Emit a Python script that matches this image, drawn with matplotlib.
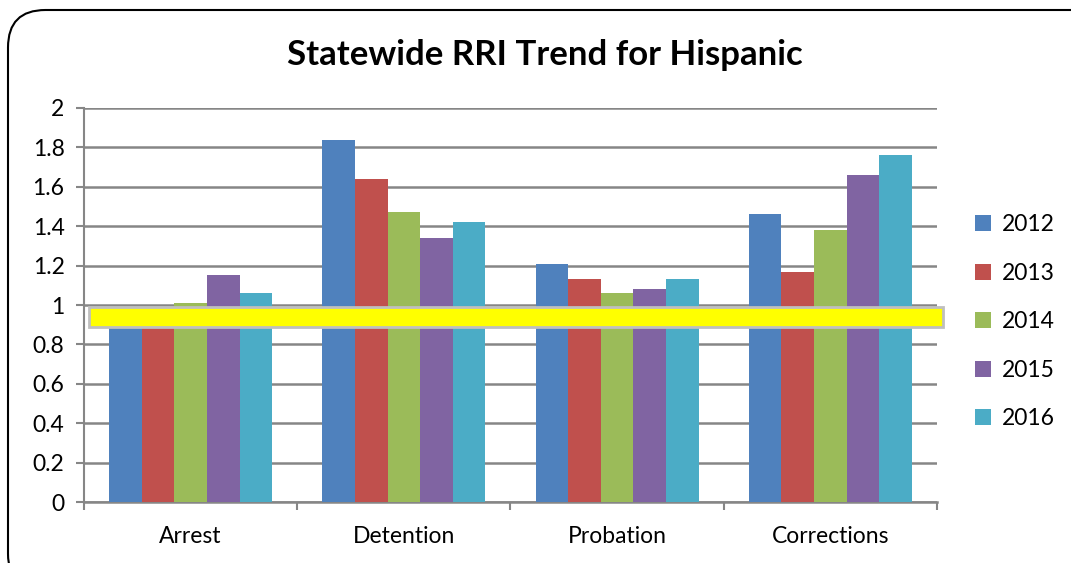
import matplotlib
matplotlib.use("Agg")
import matplotlib.pyplot as plt
import numpy as np
from matplotlib.patches import FancyBboxPatch, Rectangle
from matplotlib.transforms import blended_transform_factory

plt.rcParams["font.family"] = ["Lato", "DejaVu Sans"]

categories = ["Arrest", "Detention", "Probation", "Corrections"]
years = ["2012", "2013", "2014", "2015", "2016"]
values = {
    "2012": [0.97, 1.84, 1.21, 1.46],
    "2013": [0.97, 1.64, 1.13, 1.17],
    "2014": [1.01, 1.47, 1.06, 1.38],
    "2015": [1.15, 1.34, 1.08, 1.66],
    "2016": [1.06, 1.42, 1.13, 1.76],
}
colors = ["#4F81BD", "#C0504D", "#9BBB59", "#8064A2", "#4BACC6"]
yticks = [0, 0.2, 0.4, 0.6, 0.8, 1, 1.2, 1.4, 1.6, 1.8, 2]
band = (0.89, 0.99)

fig = plt.figure(figsize=(10.71, 5.63), dpi=100)
ax = fig.add_axes([0.0784, 0.1083, 0.7965, 0.6999])

x = np.arange(len(categories))
group_w = 0.765
bw = group_w / len(years)
for i, yr in enumerate(years):
    ax.bar(x - group_w / 2 + bw * (i + 0.5), values[yr], width=bw,
           color=colors[i], label=yr, zorder=3)

ax.set_xlim(-0.5, len(categories) - 0.5)
ax.set_ylim(0, 2)
ax.set_yticks(yticks)
ax.set_yticklabels([f"{v:g}" for v in yticks], fontsize=16.5)
ax.set_xticks(x)
ax.set_xticklabels(categories, fontsize=16.5)
ax.tick_params(axis="x", length=0, pad=17)
ax.set_xticks(np.arange(-0.5, len(categories)), minor=True)
ax.tick_params(axis="x", which="minor", length=6, width=1.5, color="#868686", direction="out")
ax.tick_params(axis="y", length=6, width=1.5, color="#868686", direction="out", pad=8)
ax.yaxis.grid(True, color="#868686", linewidth=1.8, zorder=0)
for s in ["top", "right"]:
    ax.spines[s].set_visible(False)
ax.spines["left"].set_color("#868686")
ax.spines["left"].set_linewidth(1.5)
ax.spines["bottom"].set_color("#868686")
ax.spines["bottom"].set_linewidth(1.8)

# yellow band over the 1.0 line
tr = blended_transform_factory(ax.transAxes, ax.transData)
ax.add_patch(Rectangle((0.006, band[0]), 1.001, band[1] - band[0], transform=tr,
                       facecolor="#FFFF00", edgecolor="#BFBFBF", linewidth=2,
                       zorder=5, clip_on=False))

fig.text(0.509, 0.903, "Statewide RRI Trend for Hispanic", ha="center", va="center",
         fontsize=25, fontweight="bold")

leg = ax.legend(loc="center left", bbox_to_anchor=(1.02, 0.457), frameon=False,
                fontsize=16.5, handlelength=0.7, handleheight=0.7, labelspacing=1.2,
                handletextpad=0.5)

# rounded outer border
fig.patches.append(FancyBboxPatch((8 / 1071, -0.05), 1.1, 1 - 10 / 563 + 0.05,
                                  boxstyle="round,pad=0,rounding_size=0.035",
                                  transform=fig.transFigure, facecolor="none",
                                  edgecolor="black", linewidth=1.5, mutation_aspect=1071 / 563))

fig.savefig("out.png", dpi=100)
